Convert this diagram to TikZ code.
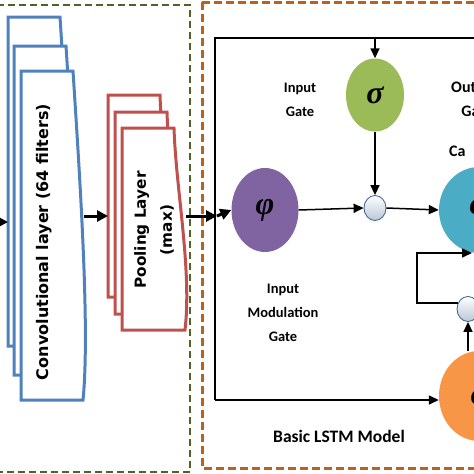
\documentclass[tikz,border=0pt]{standalone}
\usepackage{amsmath}
\usepackage{fontspec}
\setmainfont{Carlito}
\newfontfamily\layerfont{DejaVu Sans}
\newfontfamily\greekfont{Liberation Serif}
\usepackage{tikz}
\usetikzlibrary{positioning}
\usetikzlibrary{shapes.geometric}
\usetikzlibrary{arrows.meta}

\definecolor{convblue}{HTML}{4F81BD}
\definecolor{poolred}{HTML}{C0504D}
\definecolor{cnngreen}{HTML}{4F6228}
\definecolor{lstmorange}{HTML}{B8621B}
\definecolor{gpurple}{HTML}{8064A2}
\definecolor{ggreen}{HTML}{9BBB59}
\definecolor{gteal}{HTML}{4BACC6}
\definecolor{gorange}{HTML}{F79646}
\definecolor{multedge}{HTML}{385D8A}

\begin{document}
\begin{tikzpicture}[x=1pt, y=1pt,
gate/.style={ellipse, inner sep=0pt, font=\greekfont\bfseries\itshape\fontsize{32}{32}\selectfont},
mult/.style={ellipse, draw=multedge, line width=0.8pt, inner sep=0pt, minimum width=22pt, minimum height=25pt, top color=white, bottom color=multedge!35},
lbl/.style={align=center, font=\bfseries\fontsize{#1}{24}\selectfont},
lbl/.default=14.5,
convl/.style={draw=convblue, line width=3pt, fill=white, line join=miter},
pooll/.style={draw=poolred, line width=3pt, fill=white, line join=miter},
layertxt/.style={rotate=90, align=center, font=\layerfont\bfseries\fontsize{#1}{26}\selectfont},
arr/.style={-{Triangle[length=10pt,width=9pt]}, line width=1.5pt},
thickarr/.style={-{Triangle[length=11pt,width=11pt]}, line width=3pt},]

\useasboundingbox (0,0) rectangle (474,-474);
\clip (0,0) rectangle (474,-474);

% dashed frames
\draw[cnngreen, line width=2.5pt, dash pattern=on 7pt off 4pt] (-10,-5) rectangle (190,-472);
\draw[lstmorange, line width=3pt, dash pattern=on 8pt off 4pt] (202,-2) rectangle (490,-468);

% convolutional and pooling layers
\foreach \dx/\dy in {-13/54,-7/25,0/0}
  \draw[convl, shift={(\dx,\dy)}] (21,-71) -- (73,-71) .. controls (80,-180) and (90,-330) .. (83,-400) -- (21,-400) -- cycle;
\node[layertxt=16] (T_conv) at (44,-242) {Convolutional layer (64 filters)};

\foreach \dx/\dy in {-14/33,-7/16,0/0}
  \draw[pooll, shift={(\dx,\dy)}] (122,-128) -- (174,-128) .. controls (176,-190) and (192,-270) .. (185,-330) -- (122,-330) -- cycle;
\node[layertxt=15.3] (T_pool) at (154,-230) {Pooling Layer\\(max)};

\coordinate (In_L) at (-20,-222);
\coordinate (Conv_L) at (8,-222);
\coordinate (Conv_R) at (84,-216);
\coordinate (Pool_L) at (108,-216);
\coordinate (Pool_R) at (186,-216);
\coordinate (Box_L) at (217,-216);

\draw[thickarr] (In_L) -- (Conv_L);
\draw[thickarr] (Conv_R) -- (Pool_L);
\draw[thickarr] (Pool_R) -- (Box_L);

% LSTM cell
\node[gate, fill=gpurple, minimum width=67pt, minimum height=84pt] (G_mod) at (265,-210) {φ};
\node[gate, fill=ggreen, minimum width=58pt, minimum height=73pt] (G_in) at (375,-95) {σ};
\node[mult] (M_in) at (375,-208) {};
\node[gate, fill=gteal, minimum width=80pt, minimum height=86pt] (G_cell) at (479,-210) {φ};
\node[mult] (M_out) at (468,-309) {};
\node[gate, fill=gorange, minimum width=80pt, minimum height=90pt] (G_out) at (479,-396) {σ};

\coordinate (Box_TR) at (490,-38);
\coordinate (Box_TL) at (215,-38);
\coordinate (Box_BL) at (215,-400);
\coordinate (In_top) at (375,-38);
\coordinate (Fb_C) at (417,-253);
\coordinate (Fb_E) at (472,-253);

\draw[line width=1.5pt] (Box_TR) -- (Box_TL) -- (Box_BL);
\draw[arr] (Box_BL) -- (Box_BL -| G_out.west);
\draw[thickarr] (Box_L) -- (G_mod.west);
\draw[arr] (In_top) -- (G_in.north);
\draw[arr] (G_in.south) -- (M_in.north);
\draw[arr] (G_mod.east) -- (M_in.west);
\draw[arr] (M_in.east) -- (G_cell.west);
\draw[arr] (M_out |- G_out.north) -- (M_out.south);
\draw[arr] (M_out.150) -| (Fb_C) -- (Fb_E);

\node[lbl] (L_in) at (300,-100) {Input\\Gate};
\node[lbl=16, anchor=north west, inner sep=0pt] (L_out) at (451,-82) {Output\\\hspace*{4pt}Gate};
\node[lbl=16, anchor=west, inner sep=0pt] (L_cell) at (449,-151) {Ca};
\node[lbl] (L_mod) at (283,-313) {Input\\Modulation\\Gate};
\node[font=\bfseries\fontsize{17.5}{20}\selectfont] (L_model) at (339,-436) {Basic LSTM Model};

\end{tikzpicture}
\end{document}
